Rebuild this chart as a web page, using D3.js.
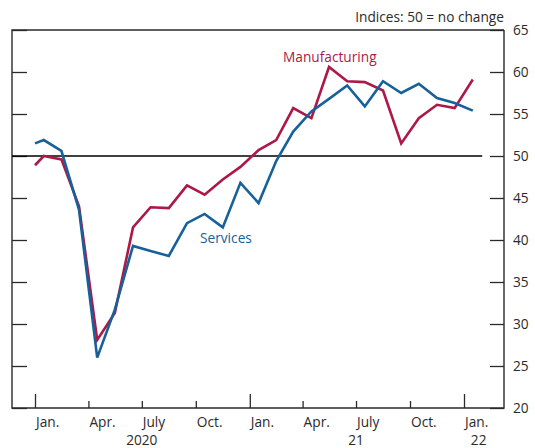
<!DOCTYPE html>
<html>
<head>
<meta charset="utf-8">
<script src="https://cdn.jsdelivr.net/npm/d3@7"></script>
<style>
  body { margin: 0; background: #fff; }
  svg { display: block; font-family: "Open Sans", sans-serif; }
</style>
</head>
<body>
<svg></svg>
<script>
// Données (indices PMI, 50 = pas de changement)
const dates = ["2020-01-01", "2020-01-16", "2020-02-15", "2020-03-16", "2020-04-16", "2020-05-16",
  "2020-06-16", "2020-07-16", "2020-08-16", "2020-09-16", "2020-10-16", "2020-11-16", "2020-12-16",
  "2021-01-16", "2021-02-15", "2021-03-16", "2021-04-16", "2021-05-16", "2021-06-16", "2021-07-16",
  "2021-08-16", "2021-09-16", "2021-10-16", "2021-11-16", "2021-12-16", "2022-01-16"];
const manufacturing = [48.9, 50.0, 49.6, 44.0, 28.1, 31.3, 41.5, 43.9, 43.8, 46.5, 45.4, 47.2, 48.7,
  50.7, 51.9, 55.7, 54.5, 60.6, 58.9, 58.8, 57.8, 51.5, 54.5, 56.1, 55.7, 59.1];
const services = [51.5, 51.9, 50.6, 43.6, 26.0, 31.7, 39.3, 38.7, 38.1, 42.0, 43.1, 41.5, 46.8,
  44.4, 49.4, 52.9, 55.3, 56.8, 58.4, 55.9, 58.9, 57.5, 58.6, 56.9, 56.3, 55.4];
const yTicks = [20, 25, 30, 35, 40, 45, 50, 55, 60, 65];
const quarterTicks = ["2020-04-01", "2020-07-01", "2020-10-01", "2021-04-01", "2021-07-01", "2021-10-01"];
const yearTicks = ["2020-01-01", "2021-01-01", "2022-01-01"];
const monthLabels = [["2020-01-01", "Jan."], ["2020-04-01", "Apr."], ["2020-07-01", "July"], ["2020-10-01", "Oct."],
  ["2021-01-01", "Jan."], ["2021-04-01", "Apr."], ["2021-07-01", "July"], ["2021-10-01", "Oct."], ["2022-01-01", "Jan."]];
const yearLabels = [["2020-07-01", "2020"], ["2021-07-01", "21"], ["2022-01-26", "22"]];

const red = "#ad1847";
const blue = "#17609a";
const ink = "#2a2a2a";
const fontSize = "13.7px";

const parse = d3.timeParse("%Y-%m-%d");

const svg = d3.select("svg")
    .attr("width", 535)
    .attr("height", 448);

// Cadre du graphique
const plotLeft = 12, plotRight = 504, plotTop = 30, plotBottom = 408;

const x = d3.scaleTime()
    .domain([parse("2020-01-01"), parse("2022-01-01")])
    .range([35, 464]);

const y = d3.scaleLinear()
    .domain([20, 65])
    .range([plotBottom, plotTop]);

// Petits traits à gauche (vers l'intérieur)
svg.append("g")
    .attr("transform", `translate(${plotLeft},0)`)
    .call(d3.axisRight(y).tickValues(yTicks).tickSize(15).tickFormat(""))
    .call(g => g.select(".domain").remove())
    .call(g => g.selectAll("line").attr("stroke", ink).attr("stroke-width", 1.3));

// Axe de droite avec les valeurs
svg.append("g")
    .attr("transform", `translate(${plotRight},0)`)
    .call(d3.axisRight(y).tickValues(yTicks).tickSizeInner(-14).tickSizeOuter(0).tickPadding(9))
    .call(g => g.select(".domain").remove())
    .call(g => g.selectAll("line").attr("stroke", ink).attr("stroke-width", 1.3))
    .call(g => g.selectAll("text").attr("fill", ink).attr("font-size", fontSize).attr("font-family", "Open Sans"));

// Traits trimestriels (courts) et annuels (longs)
svg.append("g")
    .attr("transform", `translate(0,${plotBottom})`)
    .call(d3.axisBottom(x).tickValues(quarterTicks.map(parse)).tickSize(-7).tickFormat(""))
    .call(g => g.select(".domain").remove())
    .call(g => g.selectAll("line").attr("stroke", ink).attr("stroke-width", 1.3));

svg.append("g")
    .attr("transform", `translate(0,${plotBottom})`)
    .call(d3.axisBottom(x).tickValues(yearTicks.map(parse)).tickSize(-14).tickFormat(""))
    .call(g => g.select(".domain").remove())
    .call(g => g.selectAll("line").attr("stroke", ink).attr("stroke-width", 1.3));

// Cadre
svg.append("path")
    .attr("d", `M${plotRight},${plotTop}H${plotLeft}V${plotBottom}H${plotRight}V${plotTop}`)
    .attr("fill", "none")
    .attr("stroke", ink)
    .attr("stroke-width", 1.4);

// Ligne 50
svg.append("line")
    .attr("x1", plotLeft)
    .attr("x2", x(parse("2022-02-01")))
    .attr("y1", y(50))
    .attr("y2", y(50))
    .attr("stroke", "#000")
    .attr("stroke-width", 1.3);

// Libellés des mois
svg.selectAll("text.month")
    .data(monthLabels)
    .enter()
    .append("text")
    .attr("class", "month")
    .attr("x", d => x(parse(d[0])) + 1)
    .attr("y", 427)
    .attr("font-size", fontSize)
    .attr("fill", ink)
    .text(d => d[1]);

// Libellés des années
svg.selectAll("text.year")
    .data(yearLabels)
    .enter()
    .append("text")
    .attr("class", "year")
    .attr("x", d => x(parse(d[0])))
    .attr("y", 445)
    .attr("text-anchor", "middle")
    .attr("font-size", fontSize)
    .attr("fill", ink)
    .text(d => d[1]);

// Courbes
const line = d3.line()
    .x((d, i) => x(parse(dates[i])))
    .y(d => y(d));

svg.append("path")
    .datum(manufacturing)
    .attr("d", line)
    .attr("fill", "none")
    .attr("stroke", red)
    .attr("stroke-width", 2.6)
    .attr("stroke-linejoin", "miter");

svg.append("path")
    .datum(services)
    .attr("d", line)
    .attr("fill", "none")
    .attr("stroke", blue)
    .attr("stroke-width", 2.6)
    .attr("stroke-linejoin", "miter");

// Étiquettes des séries
svg.append("text")
    .attr("x", 283)
    .attr("y", 62)
    .attr("font-size", fontSize)
    .attr("fill", red)
    .text("Manufacturing");

svg.append("text")
    .attr("x", 200)
    .attr("y", 243)
    .attr("font-size", fontSize)
    .attr("fill", blue)
    .text("Services");

// Unité
svg.append("text")
    .attr("x", plotRight)
    .attr("y", 22)
    .attr("text-anchor", "end")
    .attr("font-size", fontSize)
    .attr("fill", ink)
    .text("Indices: 50 = no change");
</script>
</body>
</html>
